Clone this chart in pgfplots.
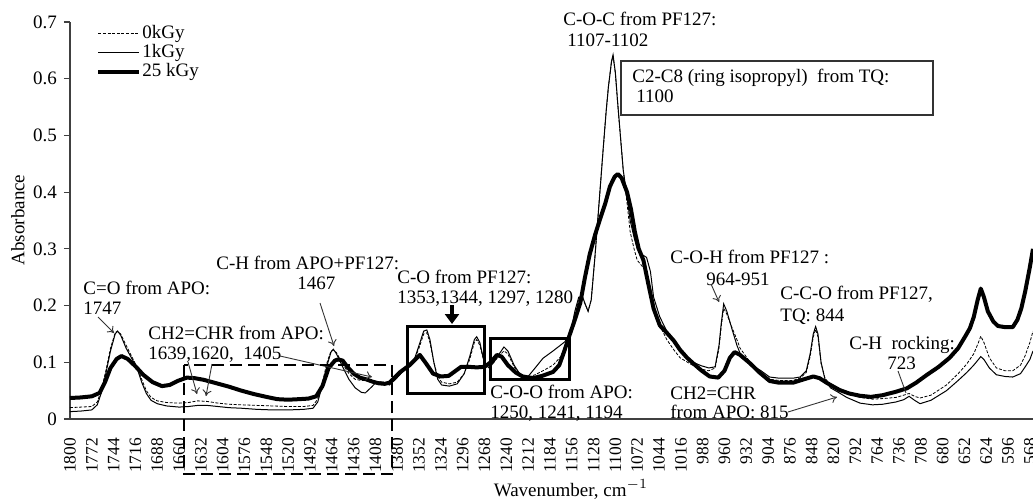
\documentclass[border=0pt]{standalone}
\usepackage{fontspec}
\setmainfont{Liberation Serif}
\usepackage{pgfplots}
\pgfplotsset{compat=1.18}
\usetikzlibrary{arrows.meta}
\newcommand\f{\fontsize{9.5}{11}\selectfont}
\newcommand\fx{\fontsize{8.7}{10}\selectfont}
\begin{document}
\begin{tikzpicture}
\begin{axis}[
 at={(35pt,40pt)}, anchor=south west,
 scale only axis, width=481.5pt, height=198.5pt,
 x dir=reverse, xmin=564, xmax=1800, ymin=0, ymax=0.7,
 axis lines*=left, axis line style={black!75, line width=0.6pt},
 xtick={568,596,...,1800}, ytick={0,0.1,0.2,0.3,0.4,0.5,0.6,0.7},
 xtick style={draw=none}, ytick style={black!75, line width=0.6pt},
 tick align=outside, major tick length=3pt,
 xticklabel style={rotate=90, anchor=east, font=\fx},
 xticklabel shift=3pt,
 yticklabel style={font=\f},
 scaled x ticks=false, scaled y ticks=false,
 /pgf/number format/set thousands separator={},
 /pgf/number format/assume math mode=true,
 legend style={at={(axis description cs:0.027,0.995)}, anchor=north west, draw=none, fill=none, font=\f, inner sep=0pt, row sep=0pt,
   nodes={inner sep=0.5pt, text height=6.5pt, text depth=2pt}},
 legend cell align=left,
 legend image code/.code={\draw[#1] (0pt,0pt) -- (20.5pt,0pt);},
]
\addplot[black, line width=0.4pt, dash pattern=on 1.5pt off 0.8pt] coordinates {
(1800,0.020)(1786,0.021)(1772,0.022)(1765,0.030)(1760,0.050)(1754,0.085)(1748,0.125)(1742,0.152)(1739,0.155)(1735,0.150)(1728,0.130)(1720,0.108)(1714,0.092)(1708,0.070)(1702,0.050)(1696,0.038)(1688,0.032)(1676,0.029)(1660,0.028)(1648,0.029)(1636,0.032)(1624,0.031)(1610,0.028)(1596,0.026)(1580,0.025)(1560,0.024)(1540,0.023)(1520,0.022)(1500,0.022)(1488,0.024)(1482,0.035)(1476,0.065)(1470,0.100)(1465,0.120)(1462,0.122)(1458,0.117)(1450,0.097)(1442,0.080)(1434,0.070)(1426,0.068)(1418,0.068)(1410,0.066)(1402,0.065)(1394,0.062)(1386,0.066)(1376,0.080)(1364,0.095)(1358,0.105)(1352,0.125)(1346,0.150)(1342,0.152)(1338,0.135)(1333,0.100)(1328,0.075)(1323,0.065)(1313,0.062)(1303,0.065)(1294,0.080)(1287,0.105)(1281,0.135)(1278,0.140)(1274,0.130)(1268,0.098)(1262,0.092)(1256,0.100)(1249,0.112)(1243,0.120)(1238,0.115)(1230,0.092)(1222,0.078)(1212,0.074)(1203,0.078)(1193,0.085)(1180,0.095)(1170,0.110)(1163,0.135)(1158,0.150)(1152,0.185)(1147,0.210)(1142,0.212)(1138,0.200)(1135,0.190)(1131,0.210)(1126,0.290)(1121,0.380)(1116,0.470)(1112,0.540)(1109,0.585)(1105,0.630)(1103,0.640)(1100,0.610)(1097,0.555)(1093,0.490)(1090,0.440)(1085,0.380)(1081,0.330)(1076,0.300)(1072,0.280)(1066,0.270)(1060,0.260)(1051,0.200)(1043,0.165)(1034,0.140)(1025,0.122)(1017,0.108)(1000,0.094)(990,0.088)(980,0.085)(972,0.090)(967,0.125)(964,0.165)(961,0.195)(957,0.185)(950,0.160)(944,0.140)(940,0.125)(927,0.100)(914,0.083)(902,0.070)(890,0.068)(872,0.068)(863,0.072)(855,0.082)(850,0.110)(846,0.145)(843,0.158)(840,0.145)(836,0.098)(831,0.072)(824,0.060)(815,0.052)(803,0.045)(786,0.038)(770,0.035)(757,0.036)(740,0.038)(730,0.042)(723,0.045)(716,0.040)(709,0.037)(695,0.042)(675,0.060)(660,0.080)(649,0.097)(640,0.115)(634,0.135)(631,0.146)(627,0.135)(620,0.108)(611,0.090)(600,0.085)(590,0.085)(580,0.095)(574,0.112)(568,0.135)(564,0.155)
};
\addlegendentry{0kGy}
\addplot[black, line width=0.5pt] coordinates {
(1800,0.013)(1786,0.014)(1772,0.016)(1765,0.025)(1760,0.045)(1754,0.080)(1748,0.120)(1742,0.150)(1739,0.155)(1735,0.148)(1728,0.125)(1720,0.105)(1714,0.090)(1708,0.065)(1702,0.045)(1696,0.033)(1688,0.027)(1676,0.023)(1660,0.021)(1648,0.022)(1636,0.024)(1624,0.024)(1610,0.022)(1596,0.020)(1580,0.019)(1560,0.017)(1540,0.016)(1520,0.016)(1500,0.017)(1488,0.019)(1482,0.030)(1476,0.060)(1470,0.095)(1465,0.118)(1462,0.123)(1458,0.115)(1450,0.092)(1442,0.070)(1434,0.055)(1426,0.047)(1421,0.046)(1414,0.055)(1406,0.066)(1398,0.065)(1390,0.060)(1382,0.070)(1372,0.085)(1364,0.095)(1358,0.105)(1352,0.130)(1346,0.155)(1342,0.157)(1338,0.140)(1333,0.100)(1328,0.070)(1323,0.060)(1313,0.058)(1303,0.062)(1294,0.080)(1287,0.110)(1281,0.140)(1278,0.145)(1274,0.135)(1268,0.098)(1262,0.090)(1256,0.100)(1249,0.115)(1243,0.127)(1238,0.120)(1230,0.095)(1222,0.078)(1212,0.075)(1203,0.090)(1193,0.107)(1180,0.120)(1165,0.136)(1158,0.150)(1152,0.190)(1147,0.215)(1142,0.215)(1138,0.200)(1135,0.190)(1131,0.210)(1126,0.290)(1121,0.380)(1116,0.470)(1112,0.540)(1109,0.585)(1105,0.630)(1103,0.642)(1100,0.610)(1097,0.557)(1093,0.490)(1090,0.440)(1085,0.390)(1081,0.350)(1076,0.320)(1072,0.300)(1066,0.290)(1060,0.285)(1055,0.260)(1051,0.215)(1043,0.180)(1034,0.155)(1025,0.135)(1017,0.118)(1008,0.108)(1000,0.100)(990,0.094)(980,0.090)(972,0.092)(967,0.130)(964,0.170)(961,0.203)(957,0.190)(950,0.157)(944,0.130)(940,0.116)(927,0.095)(914,0.086)(902,0.074)(890,0.072)(872,0.072)(863,0.074)(855,0.085)(850,0.115)(846,0.150)(843,0.163)(840,0.150)(836,0.100)(831,0.070)(824,0.055)(815,0.048)(803,0.038)(786,0.028)(770,0.025)(757,0.026)(740,0.030)(730,0.034)(723,0.040)(716,0.033)(709,0.027)(695,0.033)(675,0.050)(660,0.068)(649,0.082)(640,0.095)(634,0.105)(631,0.110)(627,0.105)(620,0.090)(611,0.078)(600,0.075)(590,0.074)(580,0.080)(574,0.092)(568,0.105)(564,0.120)
};
\addlegendentry{1kGy}
\addplot[black, line width=2pt, line join=round] coordinates {
(1800,0.037)(1786,0.038)(1772,0.040)(1762,0.046)(1755,0.065)(1748,0.090)(1740,0.106)(1734,0.111)(1726,0.106)(1716,0.093)(1706,0.078)(1694,0.065)(1682,0.058)(1672,0.060)(1662,0.067)(1650,0.073)(1640,0.072)(1628,0.069)(1612,0.063)(1596,0.057)(1580,0.050)(1564,0.044)(1548,0.039)(1534,0.035)(1520,0.034)(1506,0.035)(1494,0.036)(1484,0.040)(1476,0.058)(1468,0.090)(1460,0.103)(1456,0.105)(1450,0.103)(1444,0.092)(1436,0.080)(1428,0.073)(1420,0.070)(1412,0.066)(1404,0.063)(1396,0.062)(1390,0.064)(1376,0.083)(1364,0.095)(1351,0.113)(1343,0.098)(1334,0.080)(1324,0.075)(1314,0.076)(1306,0.084)(1298,0.092)(1288,0.092)(1278,0.091)(1268,0.092)(1260,0.100)(1252,0.113)(1246,0.110)(1238,0.095)(1228,0.082)(1219,0.075)(1206,0.072)(1194,0.076)(1180,0.083)(1172,0.095)(1166,0.118)(1160,0.143)(1152,0.175)(1145,0.205)(1139,0.250)(1133,0.290)(1126,0.325)(1120,0.351)(1113,0.380)(1107,0.410)(1101,0.427)(1097,0.432)(1092,0.425)(1085,0.400)(1080,0.370)(1075,0.330)(1070,0.300)(1064,0.280)(1058,0.240)(1051,0.195)(1043,0.165)(1034,0.152)(1025,0.138)(1017,0.122)(1008,0.108)(1000,0.098)(990,0.086)(979,0.075)(968,0.073)(960,0.085)(953,0.108)(947,0.118)(940,0.113)(927,0.098)(915,0.082)(902,0.067)(890,0.064)(872,0.064)(858,0.070)(846,0.075)(838,0.072)(829,0.064)(820,0.057)(812,0.051)(800,0.045)(786,0.041)(772,0.039)(757,0.042)(740,0.048)(726,0.054)(714,0.064)(700,0.078)(685,0.092)(671,0.108)(660,0.125)(650,0.148)(645,0.160)(640,0.180)(635,0.210)(631,0.230)(627,0.215)(622,0.190)(615,0.172)(609,0.164)(600,0.162)(590,0.162)(584,0.175)(579,0.195)(574,0.225)(568,0.268)(564,0.300)
};
\addlegendentry{25 kGy}
\end{axis}
\begin{scope}[x=0.5pt,y=-0.5pt,shift={(0pt,249.5pt)}, every node/.style={font=\f, inner sep=0pt}]
 \node[rotate=90] at (18,220) {Absorbance};
 \node[anchor=base] at (571,496) {Wavenumber, cm$^{-1}$};
 % annotation texts
 \node[anchor=base west] at (83,294) {C=O from APO:};
 \node[anchor=base west] at (83,314) {1747};
 \node[anchor=base west] at (148,339) {CH2=CHR from APO:};
 \node[anchor=base west] at (148,359) {1639,1620,\ \ 1405};
 \node[anchor=base west] at (216,269) {C-H from APO+PF127:};
 \node[anchor=base west] at (297,289) {1467};
 \node[anchor=base west] at (397,283) {C-O from PF127:};
 \node[anchor=base west] at (397,303) {1353,1344, 1297, 1280};
 \node[anchor=base west] at (490,398) {C-O-O from APO:};
 \node[anchor=base west] at (490,418) {1250, 1241, 1194};
 \node[anchor=base west] at (563,26) {C-O-C from PF127:};
 \node[anchor=base west] at (567,47) {1107-1102};
 \draw[black!80, line width=0.8pt, fill=white] (621,61) rectangle (933,115);
 \node[anchor=base west] at (632,83) {C2-C8 (ring isopropyl)\ \ from TQ:};
 \node[anchor=base west] at (636,103) {1100};
 \node[anchor=base west] at (670,263) {C-O-H from PF127 :};
 \node[anchor=base west] at (706,285) {964-951};
 \node[anchor=base west] at (780,299) {C-C-O from PF127,};
 \node[anchor=base west] at (780,321) {TQ: 844};
 \node[anchor=base west] at (849,349) {C-H\ \ rocking:};
 \node[anchor=base west] at (887,369) {723};
 \node[anchor=base west] at (670,399) {CH2=CHR};
 \node[anchor=base west] at (670,418) {from APO: 815};
 % arrows
 \begin{scope}[black!80, line width=0.45pt, -{To[length=3pt,width=4.5pt]}]
  \draw (98,317) -- (114,333);
  \draw (188,362) -- (197,394);
  \draw (212,364) -- (206,396);
  \draw (280,356) -- (372,377);
  \draw (320,303) -- (334,346);
  \draw (711,284) -- (719,302);
  \draw (788,412) -- (837,397);
 \end{scope}
 \draw[black!80, line width=0.45pt] (898,371) -- (906,393);
 \draw[black, line width=1.6pt, -{Triangle[length=5pt,width=7pt]}] (452,305) -- (452,324);
 % boxes
 \draw[black, line width=1.3pt, dash pattern=on 6pt off 3pt] (184,365) rectangle (392,474);
 \draw[black, line width=1.5pt] (407,326) rectangle (484,393);
 \draw[black, line width=1.5pt] (490,338) rectangle (569,379);
\end{scope}
\pgfresetboundingbox
\path[use as bounding box] (0,0) rectangle (516.5pt,249.5pt);
\end{tikzpicture}
\end{document}
